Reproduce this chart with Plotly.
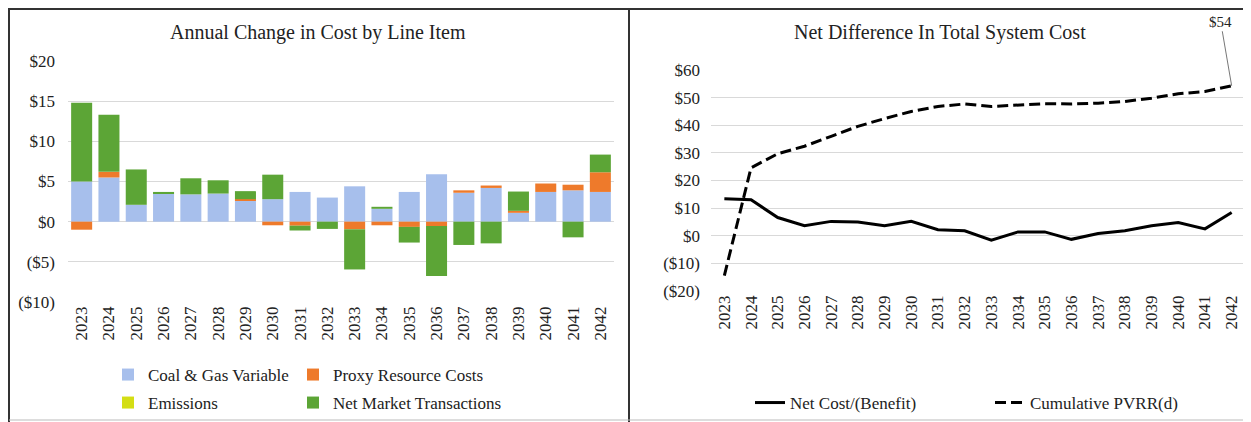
import plotly.graph_objects as go
from plotly.subplots import make_subplots

# the page puts the plot 8px in from the top-left corner of the window
OFF = 8
W, H = 1251 - OFF, 422 - OFF

years = [str(y) for y in range(2023, 2043)]

# left chart: annual change by line item ($M)
coal_gas = [5.0, 5.5, 2.1, 3.5, 3.4, 3.5, 2.6, 2.8, 3.7, 3.0,
            4.4, 1.6, 3.7, 5.9, 3.6, 4.2, 1.1, 3.7, 3.9, 3.7]
proxy = [-1.0, 0.7, 0.0, 0.0, 0.0, 0.0, 0.2, -0.45, -0.5, 0.0,
         -0.95, -0.45, -0.65, -0.55, 0.3, 0.3, 0.25, 1.05, 0.7, 2.45]
emissions = [0.0] * 20
net_market = [9.8, 7.1, 4.4, 0.2, 2.0, 1.65, 1.0, 3.05, -0.6, -0.9,
              -5.0, 0.25, -1.95, -6.2, -2.9, -2.7, 2.4, 0.0, -1.95, 2.2]

# right chart
net_cost = [13.4, 13.0, 6.6, 3.6, 5.2, 5.0, 3.6, 5.2, 2.2, 1.8,
            -1.6, 1.4, 1.4, -1.3, 0.8, 1.8, 3.6, 4.8, 2.5, 8.4]
cum_pvrr = [-14.4, 24.6, 29.7, 32.4, 36.0, 39.6, 42.4, 45.0, 46.8, 47.7,
            46.8, 47.2, 47.8, 47.7, 48.0, 48.6, 49.8, 51.4, 52.2, 54.3]

left_ticks = [-10, -5, 0, 5, 10, 15, 20]
left_labels = ["($10)", "($5)", "$0", "$5", "$10", "$15", "$20"]
right_ticks = [-20, -10, 0, 10, 20, 30, 40, 50, 60]
right_labels = ["($20)", "($10)", "$0", "$10", "$20", "$30", "$40", "$50", "$60"]

FONT = "Liberation Serif, Times New Roman, serif"
TXT = "#222"


def px_x(v):
    # window pixel -> paper fraction
    return (v - OFF) / W


def px_y(v):
    return (H - (v - OFF)) / H


fig = make_subplots(rows=1, cols=2)

bar_series = [
    ("Coal & Gas Variable", coal_gas, "#A7BFEC", "legend"),
    ("Proxy Resource Costs", proxy, "#EE7A2B", "legend2"),
    ("Emissions", emissions, "#D4DE14", "legend3"),
    ("Net Market Transactions", net_market, "#5CA536", "legend4"),
]
for name, vals, col, lg in bar_series:
    fig.add_trace(go.Bar(x=years, y=vals, name=name, marker_color=col,
                         marker_line_width=0, legend=lg), row=1, col=1)

fig.add_trace(go.Scatter(x=years, y=net_cost, mode="lines", name="Net Cost/(Benefit)",
                         line=dict(color="black", width=3), legend="legend5"), row=1, col=2)
fig.add_trace(go.Scatter(x=years, y=cum_pvrr, mode="lines", name="Cumulative PVRR(d)",
                         line=dict(color="black", width=3, dash="11px,5px"), legend="legend6"),
              row=1, col=2)

leg = dict(font=dict(family=FONT, size=17, color=TXT), bgcolor="rgba(0,0,0,0)",
           xanchor="left", yanchor="middle", visible=True)
fig.update_layout(
    showlegend=True,
    legend=dict(leg, x=px_x(108), y=px_y(375)),
    legend2=dict(leg, x=px_x(293), y=px_y(375)),
    legend3=dict(leg, x=px_x(108), y=px_y(403)),
    legend4=dict(leg, x=px_x(293), y=px_y(403)),
    legend5=dict(leg, x=px_x(750), y=px_y(403)),
    legend6=dict(leg, x=px_x(990), y=px_y(403)),
)

fig.update_layout(
    width=W, height=H,
    margin=dict(l=0, r=0, t=0, b=0, pad=0),
    paper_bgcolor="white", plot_bgcolor="white",
    barmode="relative", bargap=0.23,
    font=dict(family=FONT, size=17, color=TXT),
    xaxis=dict(domain=[px_x(68), px_x(614)]),
    xaxis2=dict(domain=[px_x(711), px_x(1245)]),
    yaxis=dict(domain=[px_y(302), px_y(61)]),
    yaxis2=dict(domain=[px_y(291), px_y(70)]),
)

tick_font = dict(family=FONT, size=17, color=TXT)
fig.update_xaxes(type="category", tickangle=-90, showgrid=False, showline=False,
                 ticks="", tickfont=tick_font, automargin=False,
                 range=[-0.5, len(years) - 0.5])
fig.update_yaxes(showgrid=True, gridcolor="#D9D9D9", gridwidth=1, zeroline=False,
                 showline=False, ticks="", tickfont=tick_font, automargin=False)
fig.update_yaxes(range=[-10, 20], tickvals=left_ticks, ticktext=left_labels,
                 ticklabelstandoff=12, row=1, col=1)
fig.update_yaxes(range=[-20, 60], tickvals=right_ticks, ticktext=right_labels,
                 ticklabelstandoff=10, row=1, col=2)

fig.add_annotation(text="Annual Change in Cost by Line Item", x=px_x(318), y=px_y(32),
                   xref="paper", yref="paper", xanchor="center", yanchor="middle",
                   showarrow=False, font=dict(family=FONT, size=20, color=TXT))
fig.add_annotation(text="Net Difference In Total System Cost", x=px_x(940), y=px_y(32),
                   xref="paper", yref="paper", xanchor="center", yanchor="middle",
                   showarrow=False, font=dict(family=FONT, size=20, color=TXT))
# category index of the last year
fig.add_annotation(text="$54", x=len(years) - 1, y=cum_pvrr[-1], xref="x2", yref="y2",
                   showarrow=True, arrowhead=0, arrowwidth=1, arrowcolor="#777",
                   ax=-11, ay=-64, font=dict(family=FONT, size=15, color=TXT))

# panel frames
line = dict(color="#333", width=2)
fig.add_shape(type="line", xref="paper", yref="paper", x0=0, x1=1, y0=px_y(9), y1=px_y(9), line=line)
fig.add_shape(type="line", xref="paper", yref="paper", x0=px_x(9), x1=px_x(9), y0=px_y(8), y1=0, line=line)
fig.add_shape(type="line", xref="paper", yref="paper", x0=px_x(629), x1=px_x(629), y0=px_y(8), y1=0, line=line)
fig.add_shape(type="line", xref="paper", yref="paper", x0=px_x(9), x1=1, y0=px_y(420), y1=px_y(420),
              line=dict(color="#BBB", width=1))

fig.write_html("out.html")
